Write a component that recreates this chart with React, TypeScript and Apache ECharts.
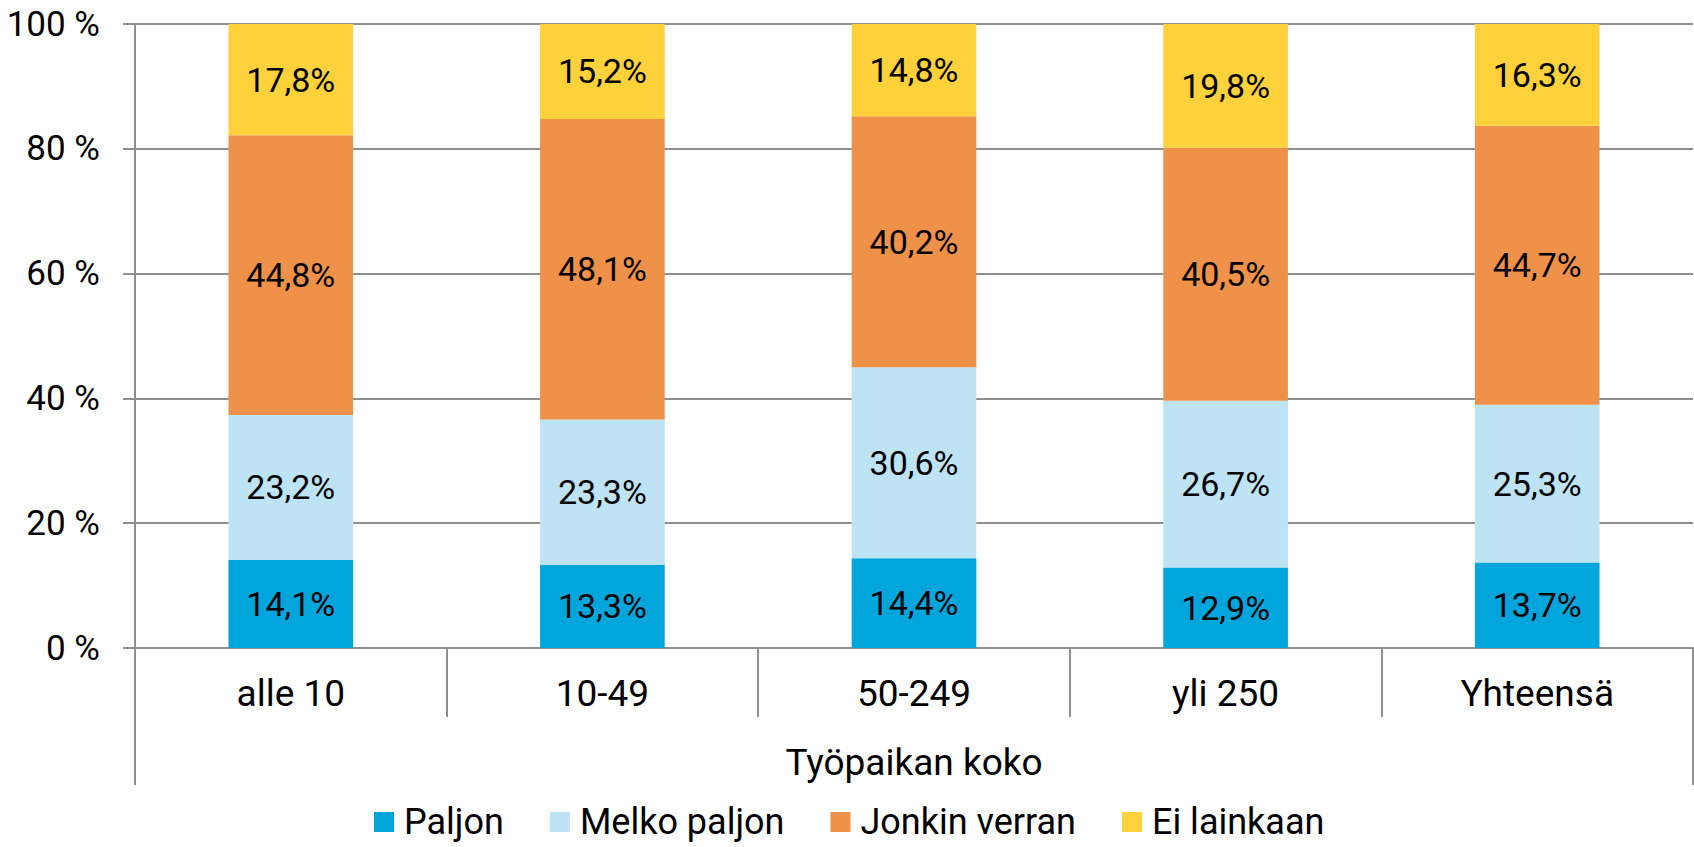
import React, { useEffect, useRef } from "react";
import * as echarts from "echarts";

const categories = ["alle 10", "10-49", "50-249", "yli 250", "Yhteensä"];
const seriesNames = ["Paljon", "Melko paljon", "Jonkin verran", "Ei lainkaan"];
const paljon = [14.1, 13.3, 14.4, 12.9, 13.7];
const melkoPaljon = [23.2, 23.3, 30.6, 26.7, 25.3];
const jonkinVerran = [44.8, 48.1, 40.2, 40.5, 44.7];
const eiLainkaan = [17.8, 15.2, 14.8, 19.8, 16.3];
const seriesColors = ["#00A5DB", "#BDE3F5", "#F0914A", "#FFD13A"];
const axisTitle = "Työpaikan koko";

const FONT = "Roboto, 'Open Sans', sans-serif";
const GRAY = "#8f8f8f";

export default function App() {
  const ref = useRef<HTMLDivElement>(null);

  useEffect(() => {
    document.body.style.margin = "0";
    if (!ref.current) return;
    const chart = echarts.init(ref.current, null, { renderer: "svg" });
    const all = [paljon, melkoPaljon, jonkinVerran, eiLainkaan];
    const totals = categories.map((_, i) => all.reduce((s, arr) => s + arr[i], 0));
    const fmt = (v: number) => v.toFixed(1).replace(".", ",") + "%";

    const series = all.map((arr, si) => ({
      type: "bar",
      name: seriesNames[si],
      stack: "total",
      barWidth: "40%",
      xAxisIndex: 0,
      yAxisIndex: 0,
      itemStyle: { color: seriesColors[si] },
      label: {
        show: true,
        position: "inside",
        color: "#000",
        fontFamily: FONT,
        fontSize: 34,
        formatter: (p: any) => fmt(arr[p.dataIndex]),
      },
      emphasis: { disabled: true },
      data: arr.map((v, i) => (v / totals[i]) * 100),
    }));

    chart.setOption({
      animation: false,
      backgroundColor: "#fff",
      textStyle: { fontFamily: FONT },
      grid: { left: 135, right: 1, top: 24, bottom: 199, containLabel: false },
      legend: {
        data: seriesNames,
        left: 374,
        top: 804,
        itemWidth: 20,
        itemHeight: 20,
        itemGap: 46,
        icon: "rect",
        padding: 0,
        textStyle: {
          fontFamily: FONT,
          fontSize: 36,
          lineHeight: 36,
          color: "#000",
          padding: [0, 0, 0, 5],
        },
      },
      xAxis: [
        {
          type: "category",
          data: categories,
          position: "bottom",
          axisLine: { show: true, lineStyle: { color: GRAY, width: 2 } },
          axisTick: { show: true, interval: 0, length: 69, lineStyle: { color: GRAY, width: 2 } },
          axisLabel: { color: "#000", fontFamily: FONT, fontSize: 37, margin: 27, interval: 0 },
          name: axisTitle,
          nameLocation: "middle",
          nameGap: 96,
          nameTextStyle: { color: "#000", fontFamily: FONT, fontSize: 37, verticalAlign: "top" },
        },
        {
          type: "category",
          data: [""],
          position: "bottom",
          offset: 0,
          axisLine: { show: false },
          axisTick: { show: true, interval: 0, length: 137, lineStyle: { color: GRAY, width: 2 } },
          axisLabel: { show: false },
          splitLine: { show: false },
        },
      ],
      yAxis: {
        type: "value",
        min: 0,
        max: 100,
        interval: 20,
        axisLine: { show: true, lineStyle: { color: GRAY, width: 2 } },
        axisTick: { show: true, length: 12, lineStyle: { color: GRAY, width: 2 } },
        splitLine: { show: true, lineStyle: { color: GRAY, width: 2 } },
        axisLabel: {
          color: "#000",
          fontFamily: FONT,
          fontSize: 35,
          margin: 35,
          formatter: "{value} %",
        },
      },
      series,
    });
    return () => chart.dispose();
  }, []);

  return <div ref={ref} style={{ width: 1694, height: 847 }} />;
}
